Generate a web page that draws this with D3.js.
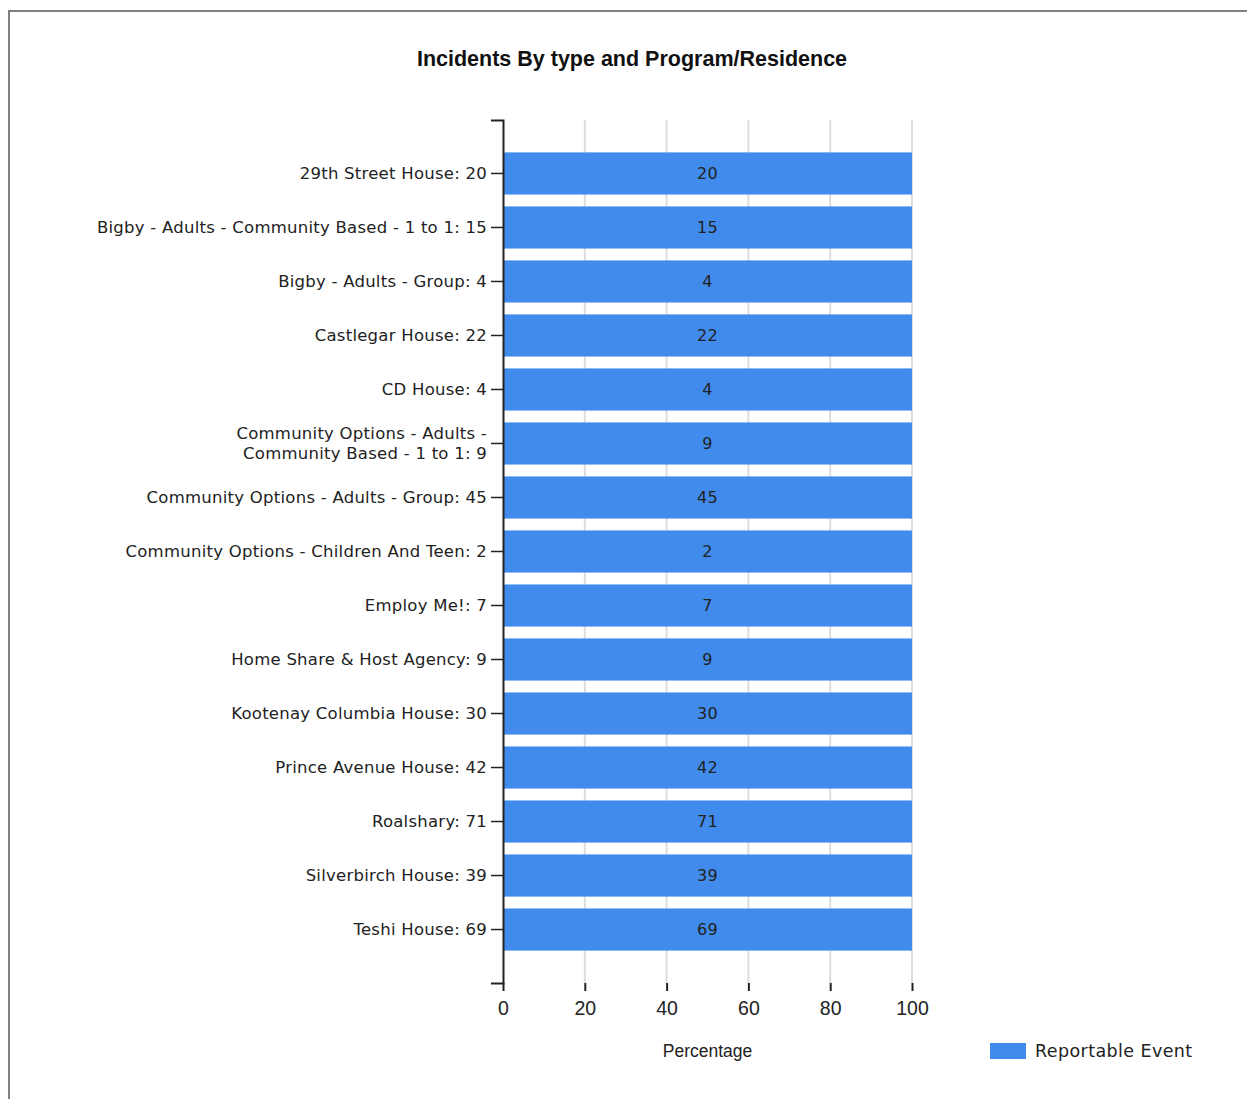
<!DOCTYPE html>
<html>
<head>
<meta charset="utf-8">
<script src="https://cdn.jsdelivr.net/npm/d3@7"></script>
<style>
  html, body { margin: 0; padding: 0; background: #fff; }
  svg { display: block; }
</style>
</head>
<body>
<div id="chart"></div>
<script>
// programs / residences, incident counts and the share of each bar
const programs = [
  '29th Street House', 'Bigby - Adults - Community Based - 1 to 1', 'Bigby - Adults - Group',
  'Castlegar House', 'CD House', 'Community Options - Adults - Community Based - 1 to 1',
  'Community Options - Adults - Group', 'Community Options - Children And Teen', 'Employ Me!',
  'Home Share & Host Agency', 'Kootenay Columbia House', 'Prince Avenue House',
  'Roalshary', 'Silverbirch House', 'Teshi House'
];
const counts = [20, 15, 4, 22, 4, 9, 45, 2, 7, 9, 30, 42, 71, 39, 69];
const reportablePct = [100, 100, 100, 100, 100, 100, 100, 100, 100, 100, 100, 100, 100, 100, 100];
const xTicks = [0, 20, 40, 60, 80, 100];
const seriesName = 'Reportable Event';

const width = 1247, height = 1099;
const blue = '#418BEC';
const labelFont = '"DejaVu Sans", Verdana, sans-serif';
const arialFont = '"Liberation Sans", Arial, sans-serif';

const svg = d3.select('#chart').append('svg')
  .attr('width', width)
  .attr('height', height);

// outer frame (left + top edge)
svg.append('path')
  .attr('d', `M9,${height}V11H${width}`)
  .attr('fill', 'none')
  .attr('stroke', '#808080')
  .attr('stroke-width', 2);

svg.append('text')
  .attr('x', 632)
  .attr('y', 66)
  .attr('text-anchor', 'middle')
  .attr('font-family', arialFont)
  .attr('font-weight', 'bold')
  .attr('font-size', 21.5)
  .attr('fill', '#111')
  .text('Incidents By type and Program/Residence');

const x = d3.scaleLinear().domain([0, 100]).range([503, 912]);
const y = d3.scaleBand()
  .domain(programs)
  .range([120, 983])
  .paddingInner(0.22)
  .paddingOuter(0.6);

// grid
svg.append('g')
  .selectAll('line')
  .data(xTicks.slice(1))
  .enter()
  .append('line')
  .attr('x1', d => x(d))
  .attr('x2', d => x(d))
  .attr('y1', 120)
  .attr('y2', 983)
  .attr('stroke', '#dddddd')
  .attr('stroke-width', 2);

// bars
svg.append('g')
  .selectAll('rect')
  .data(programs)
  .enter()
  .append('rect')
  .attr('x', x(0))
  .attr('y', d => y(d))
  .attr('width', (d, i) => x(reportablePct[i]) - x(0))
  .attr('height', y.bandwidth())
  .attr('fill', blue);

// value labels
svg.append('g')
  .selectAll('text')
  .data(programs)
  .enter()
  .append('text')
  .attr('x', (d, i) => (x(0) + x(reportablePct[i])) / 2)
  .attr('y', d => y(d) + y.bandwidth() / 2)
  .attr('dy', '0.36em')
  .attr('text-anchor', 'middle')
  .attr('font-family', labelFont)
  .attr('font-size', 16)
  .attr('letter-spacing', 0.3)
  .attr('fill', '#222')
  .text((d, i) => counts[i]);

// y axis
const yAxis = svg.append('g')
  .attr('transform', `translate(${x(0)},0)`)
  .call(d3.axisLeft(y).tickSize(12).tickSizeOuter(12).tickPadding(4)
    .tickFormat((d, i) => `${d}: ${counts[i]}`));

yAxis.select('.domain').attr('stroke', '#222').attr('stroke-width', 2);
yAxis.selectAll('.tick line').attr('stroke', '#222').attr('stroke-width', 1.5);
yAxis.selectAll('.tick text')
  .attr('font-family', labelFont)
  .attr('font-size', 16.5)
  .attr('letter-spacing', 0.25)
  .attr('fill', '#222')
  .each(function () {
    const t = d3.select(this);
    const full = t.text();
    if (this.getComputedTextLength() < 420) return;
    // split into two lines of similar length
    const words = full.split(' ');
    let best = null;
    for (let k = 1; k < words.length; k++) {
      t.text(words.slice(0, k).join(' '));
      const a = this.getComputedTextLength();
      t.text(words.slice(k).join(' '));
      const b = this.getComputedTextLength();
      const m = Math.max(a, b);
      if (!best || m < best.m) best = { k, m };
    }
    const xPos = t.attr('x');
    t.text(null).attr('dy', null);
    t.append('tspan').attr('x', xPos).attr('dy', '-0.28em').text(words.slice(0, best.k).join(' '));
    t.append('tspan').attr('x', xPos).attr('dy', '1.2em').text(words.slice(best.k).join(' '));
  });

// x axis
const xAxis = svg.append('g')
  .attr('transform', 'translate(0,983)')
  .call(d3.axisBottom(x).tickValues(xTicks).tickSize(8).tickSizeOuter(0).tickPadding(10));

xAxis.select('.domain').remove();
xAxis.selectAll('.tick line').attr('stroke', '#222').attr('stroke-width', 2);
xAxis.selectAll('.tick text')
  .attr('font-family', arialFont)
  .attr('font-size', 19.5)
  .attr('fill', '#222');

svg.append('text')
  .attr('x', (x(0) + x(100)) / 2)
  .attr('y', 1057)
  .attr('text-anchor', 'middle')
  .attr('font-family', arialFont)
  .attr('font-size', 17.5)
  .attr('fill', '#222')
  .text('Percentage');

// legend
const legend = svg.append('g').attr('transform', 'translate(990,1043)');
legend.append('rect')
  .attr('width', 36)
  .attr('height', 16)
  .attr('fill', blue);
legend.append('text')
  .attr('x', 45)
  .attr('y', 8)
  .attr('dy', '0.36em')
  .attr('font-family', labelFont)
  .attr('font-size', 17.5)
  .attr('letter-spacing', 0.4)
  .attr('fill', '#222')
  .text(seriesName);
</script>
</body>
</html>
